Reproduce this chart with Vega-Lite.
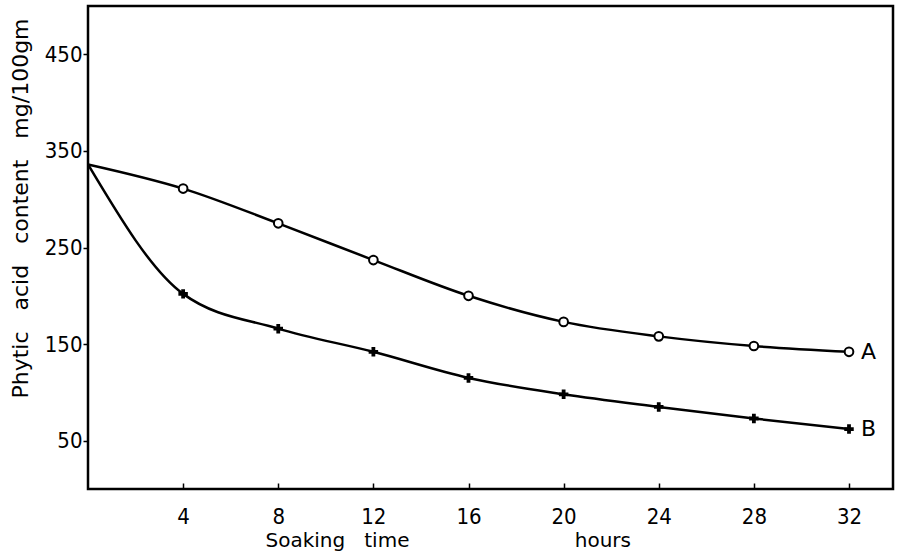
{
  "$schema": "https://vega.github.io/schema/vega-lite/v6.json",
  "width": 805,
  "height": 483,
  "autosize": {"type": "none"},
  "padding": {"left": 88, "top": 6, "right": 5, "bottom": 65},
  "background": "white",
  "config": {
    "view": {"stroke": "black", "strokeWidth": 2.5},
    "font": "DejaVu Sans",
    "axis": {"domain": false, "grid": false, "labelFont": "DejaVu Sans Condensed", "titleFont": "DejaVu Sans", "labelColor": "black", "titleColor": "black", "tickColor": "black", "labelFontSize": 22, "titleFontSize": 20, "titleFontWeight": "normal", "tickWidth": 1.5}
  },
  "data": {
    "values": [
      {"hours": 0, "phytic": 336, "series": "A"},
      {"hours": 4, "phytic": 311, "series": "A"},
      {"hours": 8, "phytic": 275, "series": "A"},
      {"hours": 12, "phytic": 237, "series": "A"},
      {"hours": 16, "phytic": 200, "series": "A"},
      {"hours": 20, "phytic": 173, "series": "A"},
      {"hours": 24, "phytic": 158, "series": "A"},
      {"hours": 28, "phytic": 148, "series": "A"},
      {"hours": 32, "phytic": 142, "series": "A"},
      {"hours": 0, "phytic": 336, "series": "B"},
      {"hours": 4, "phytic": 202, "series": "B"},
      {"hours": 8, "phytic": 166, "series": "B"},
      {"hours": 12, "phytic": 142, "series": "B"},
      {"hours": 16, "phytic": 115, "series": "B"},
      {"hours": 20, "phytic": 98, "series": "B"},
      {"hours": 24, "phytic": 85, "series": "B"},
      {"hours": 28, "phytic": 73, "series": "B"},
      {"hours": 32, "phytic": 62, "series": "B"}
    ]
  },
  "encoding": {
    "x": {"field": "hours", "type": "quantitative", "scale": {"domain": [0, 33.85], "nice": false, "zero": false},
      "axis": {"values": [4, 8, 12, 16, 20, 24, 28, 32], "tickSize": -6, "labelPadding": 23, "title": "Soaking\u00a0\u00a0\u00a0time\u00a0\u00a0\u00a0\u00a0\u00a0\u00a0\u00a0\u00a0\u00a0\u00a0\u00a0\u00a0\u00a0\u00a0\u00a0\u00a0\u00a0\u00a0\u00a0\u00a0\u00a0\u00a0\u00a0\u00a0\u00a0\u00a0hours", "titleAnchor": "start", "titleX": 177, "titlePadding": 3}},
    "y": {"field": "phytic", "type": "quantitative", "scale": {"domain": [0, 500], "nice": false},
      "axis": {"values": [50, 150, 250, 350, 450], "tickSize": 5, "labelPadding": 1, "title": "Phytic\u00a0\u00a0\u00a0acid\u00a0\u00a0\u00a0content\u00a0\u00a0\u00a0mg/100gm", "titleFontSize": 22, "titleAnchor": "middle", "titleY": 202, "titlePadding": 12}}
  },
  "layer": [
    {"mark": {"type": "line", "interpolate": "monotone", "color": "black", "strokeWidth": 2.5},
     "encoding": {"detail": {"field": "series"}}},
    {"transform": [{"filter": "datum.series == 'A' && datum.hours > 0"}],
     "mark": {"type": "point", "shape": "circle", "filled": true, "fill": "white", "stroke": "black", "strokeWidth": 2, "size": 75, "opacity": 1}},
    {"transform": [{"filter": "datum.series == 'B' && datum.hours > 0"}],
     "mark": {"type": "point", "shape": "cross", "filled": true, "color": "black", "size": 90, "opacity": 1}},
    {"transform": [{"filter": "datum.hours == 32"}],
     "mark": {"type": "text", "align": "left", "baseline": "middle", "dx": 12, "fontSize": 22, "color": "black", "font": "DejaVu Sans"},
     "encoding": {"text": {"field": "series"}}}
  ]
}
